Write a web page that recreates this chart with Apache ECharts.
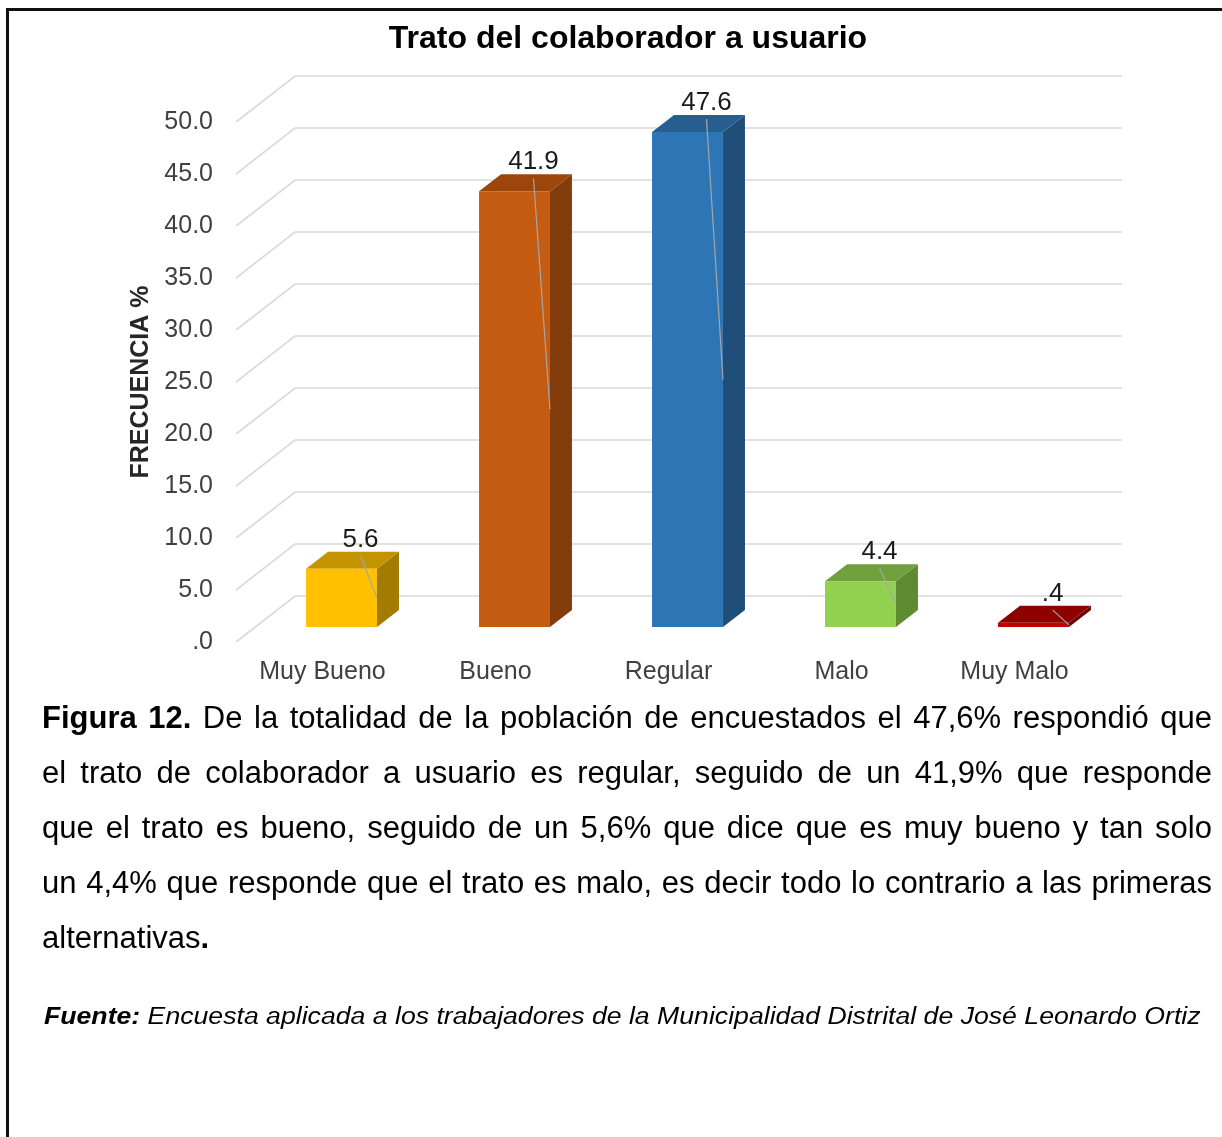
<!DOCTYPE html>
<html>
<head>
<meta charset="utf-8">
<title>Trato del colaborador a usuario</title>
<script src="https://cdn.jsdelivr.net/npm/echarts@6/dist/echarts.min.js"></script>
<style>
  html, body { margin: 0; padding: 0; background: #fff; }
  body { width: 1222px; height: 1137px; position: relative; overflow: hidden; font-family: 'Liberation Sans', Arial, sans-serif; }
  #frame { position: absolute; left: 6px; top: 8px; width: 1300px; height: 1300px; border-top: 3px solid #111; border-left: 3px solid #111; }
  #chart { position: absolute; left: 0; top: 0; width: 1222px; height: 1137px; }
  .txt { position: absolute; left: 42px; top: 690px; width: 1170px; font-size: 31px; line-height: 55px; color: #000; }
  .txt div { text-align: justify; text-align-last: justify; }
  .txt div.last { text-align-last: left; }
  #fuente { position: absolute; left: 44px; top: 1002px; font-size: 23px; line-height: 28px; font-style: italic; white-space: nowrap; transform-origin: 0 0; }
</style>
</head>
<body>
<div id="chart"></div>
<div id="frame"></div>
<div class="txt">
  <div><b>Figura 12.</b> De la totalidad de la población de encuestados el 47,6% respondió que</div>
  <div>el trato de colaborador a usuario es regular, seguido de un 41,9% que responde</div>
  <div>que el trato es bueno, seguido de un 5,6% que dice que es muy bueno y tan solo</div>
  <div>un 4,4% que responde que el trato es malo, es decir todo lo contrario a las primeras</div>
  <div class="last">alternativas<b>.</b></div>
</div>
<div id="fuente"><b>Fuente:</b> Encuesta aplicada a los trabajadores de la Municipalidad Distrital de José Leonardo Ortiz</div>

<script>
const categories = ['Muy Bueno', 'Bueno', 'Regular', 'Malo', 'Muy Malo']
const frecuencia = [5.6, 41.9, 47.6, 4.4, 0.4]
const yTicks = [0, 5, 10, 15, 20, 25, 30, 35, 40, 45, 50]

// colores de cada cara (frente, tapa, lateral)
const faceColors = [
  { front: '#FFC000', top: '#C49400', side: '#A27B00' },
  { front: '#C55A11', top: '#9C460C', side: '#843C0C' },
  { front: '#2E75B6', top: '#275E90', side: '#1F4E79' },
  { front: '#92D050', top: '#70A13C', side: '#5E8B32' },
  { front: '#C00000', top: '#8E0000', side: '#6E0000' }
]

// desplazamientos de la perspectiva 3D (px)
const WALL = [59, -46]
const FRONT = [19, -15]
const DEPTH = [22, -17]
const FONT = "'Liberation Sans', Arial, sans-serif"

function fmt(v) {
  return v.toFixed(1).replace(/^0/, '')
}

function renderGrid(params, api) {
  const cs = params.coordSys
  const y = api.coord([0, api.value(1)])[1]
  return {
    type: 'polyline',
    shape: {
      points: [[cs.x, y], [cs.x + WALL[0], y + WALL[1]], [cs.x + cs.width + 21, y + WALL[1]]]
    },
    style: { stroke: '#d9d9d9', lineWidth: 1.6, fill: null }
  }
}

function renderBar(params, api) {
  const i = api.value(0)
  const v = api.value(1)
  const base = api.coord([i, 0])
  const peak = api.coord([i, v])
  const w = api.size([1, 0])[0] * 0.41
  const xl = base[0] - w / 2 + FRONT[0]
  const xr = xl + w
  const yb = base[1] + FRONT[1]
  const yt = peak[1] + FRONT[1]
  const dx = DEPTH[0]
  const dy = DEPTH[1]
  const c = faceColors[i]
  const lx = (xl + xr) / 2 + dx / 2 + 8
  const ly = yt + dy - 12
  return {
    type: 'group',
    children: [
      {
        type: 'polygon',
        shape: { points: [[xr, yt], [xr + dx, yt + dy], [xr + dx, yb + dy], [xr, yb]] },
        style: { fill: c.side }
      },
      {
        type: 'polygon',
        shape: { points: [[xl, yt], [xr, yt], [xr + dx, yt + dy], [xl + dx, yt + dy]] },
        style: { fill: c.top }
      },
      {
        type: 'rect',
        shape: { x: xl, y: yt, width: w, height: yb - yt },
        style: { fill: c.front }
      },
      {
        type: 'line',
        shape: { x1: lx, y1: ly + 16, x2: xr, y2: (yt + yb) / 2 },
        style: { stroke: '#a6a6a6', lineWidth: 1.2 }
      },
      {
        type: 'text',
        style: {
          text: fmt(v), x: lx, y: ly, align: 'center', verticalAlign: 'middle',
          fill: '#1a1a1a', fontSize: 26, fontFamily: FONT
        }
      }
    ]
  }
}

const chart = echarts.init(document.getElementById('chart'))
chart.setOption({
  animation: false,
  title: {
    text: 'Trato del colaborador a usuario',
    left: 623,
    top: 18,
    textAlign: 'center',
    textStyle: { fontSize: 32, fontWeight: 'bold', color: '#000', fontFamily: FONT }
  },
  grid: { left: 236, right: 121, top: 122, bottom: 495 },
  xAxis: {
    type: 'category',
    data: categories,
    axisLine: { show: false },
    axisTick: { show: false },
    axisLabel: { fontSize: 25, color: '#404040', margin: 18, fontFamily: FONT }
  },
  yAxis: {
    type: 'value',
    min: 0,
    max: 50,
    interval: 5,
    name: 'FRECUENCIA %',
    nameLocation: 'middle',
    nameRotate: 90,
    nameGap: 82,
    nameTextStyle: { fontSize: 25, fontWeight: 'bold', color: '#262626', fontFamily: FONT },
    axisLine: { show: false },
    axisTick: { show: false },
    splitLine: { show: false },
    axisLabel: { fontSize: 25, color: '#404040', margin: 23, fontFamily: FONT, formatter: fmt }
  },
  series: [
    {
      type: 'custom',
      z: 1,
      silent: true,
      renderItem: renderGrid,
      encode: { x: 0, y: 1 },
      data: yTicks.map(t => [0, t])
    },
    {
      type: 'custom',
      z: 2,
      renderItem: renderBar,
      encode: { x: 0, y: 1 },
      data: frecuencia.map((v, i) => [i, v])
    }
  ]
})

// la línea de fuente ocupa el mismo ancho que en la figura original
const fuente = document.getElementById('fuente')
fuente.style.transform = 'scaleX(' + (1156 / fuente.offsetWidth) + ')'
</script>
</body>
</html>
